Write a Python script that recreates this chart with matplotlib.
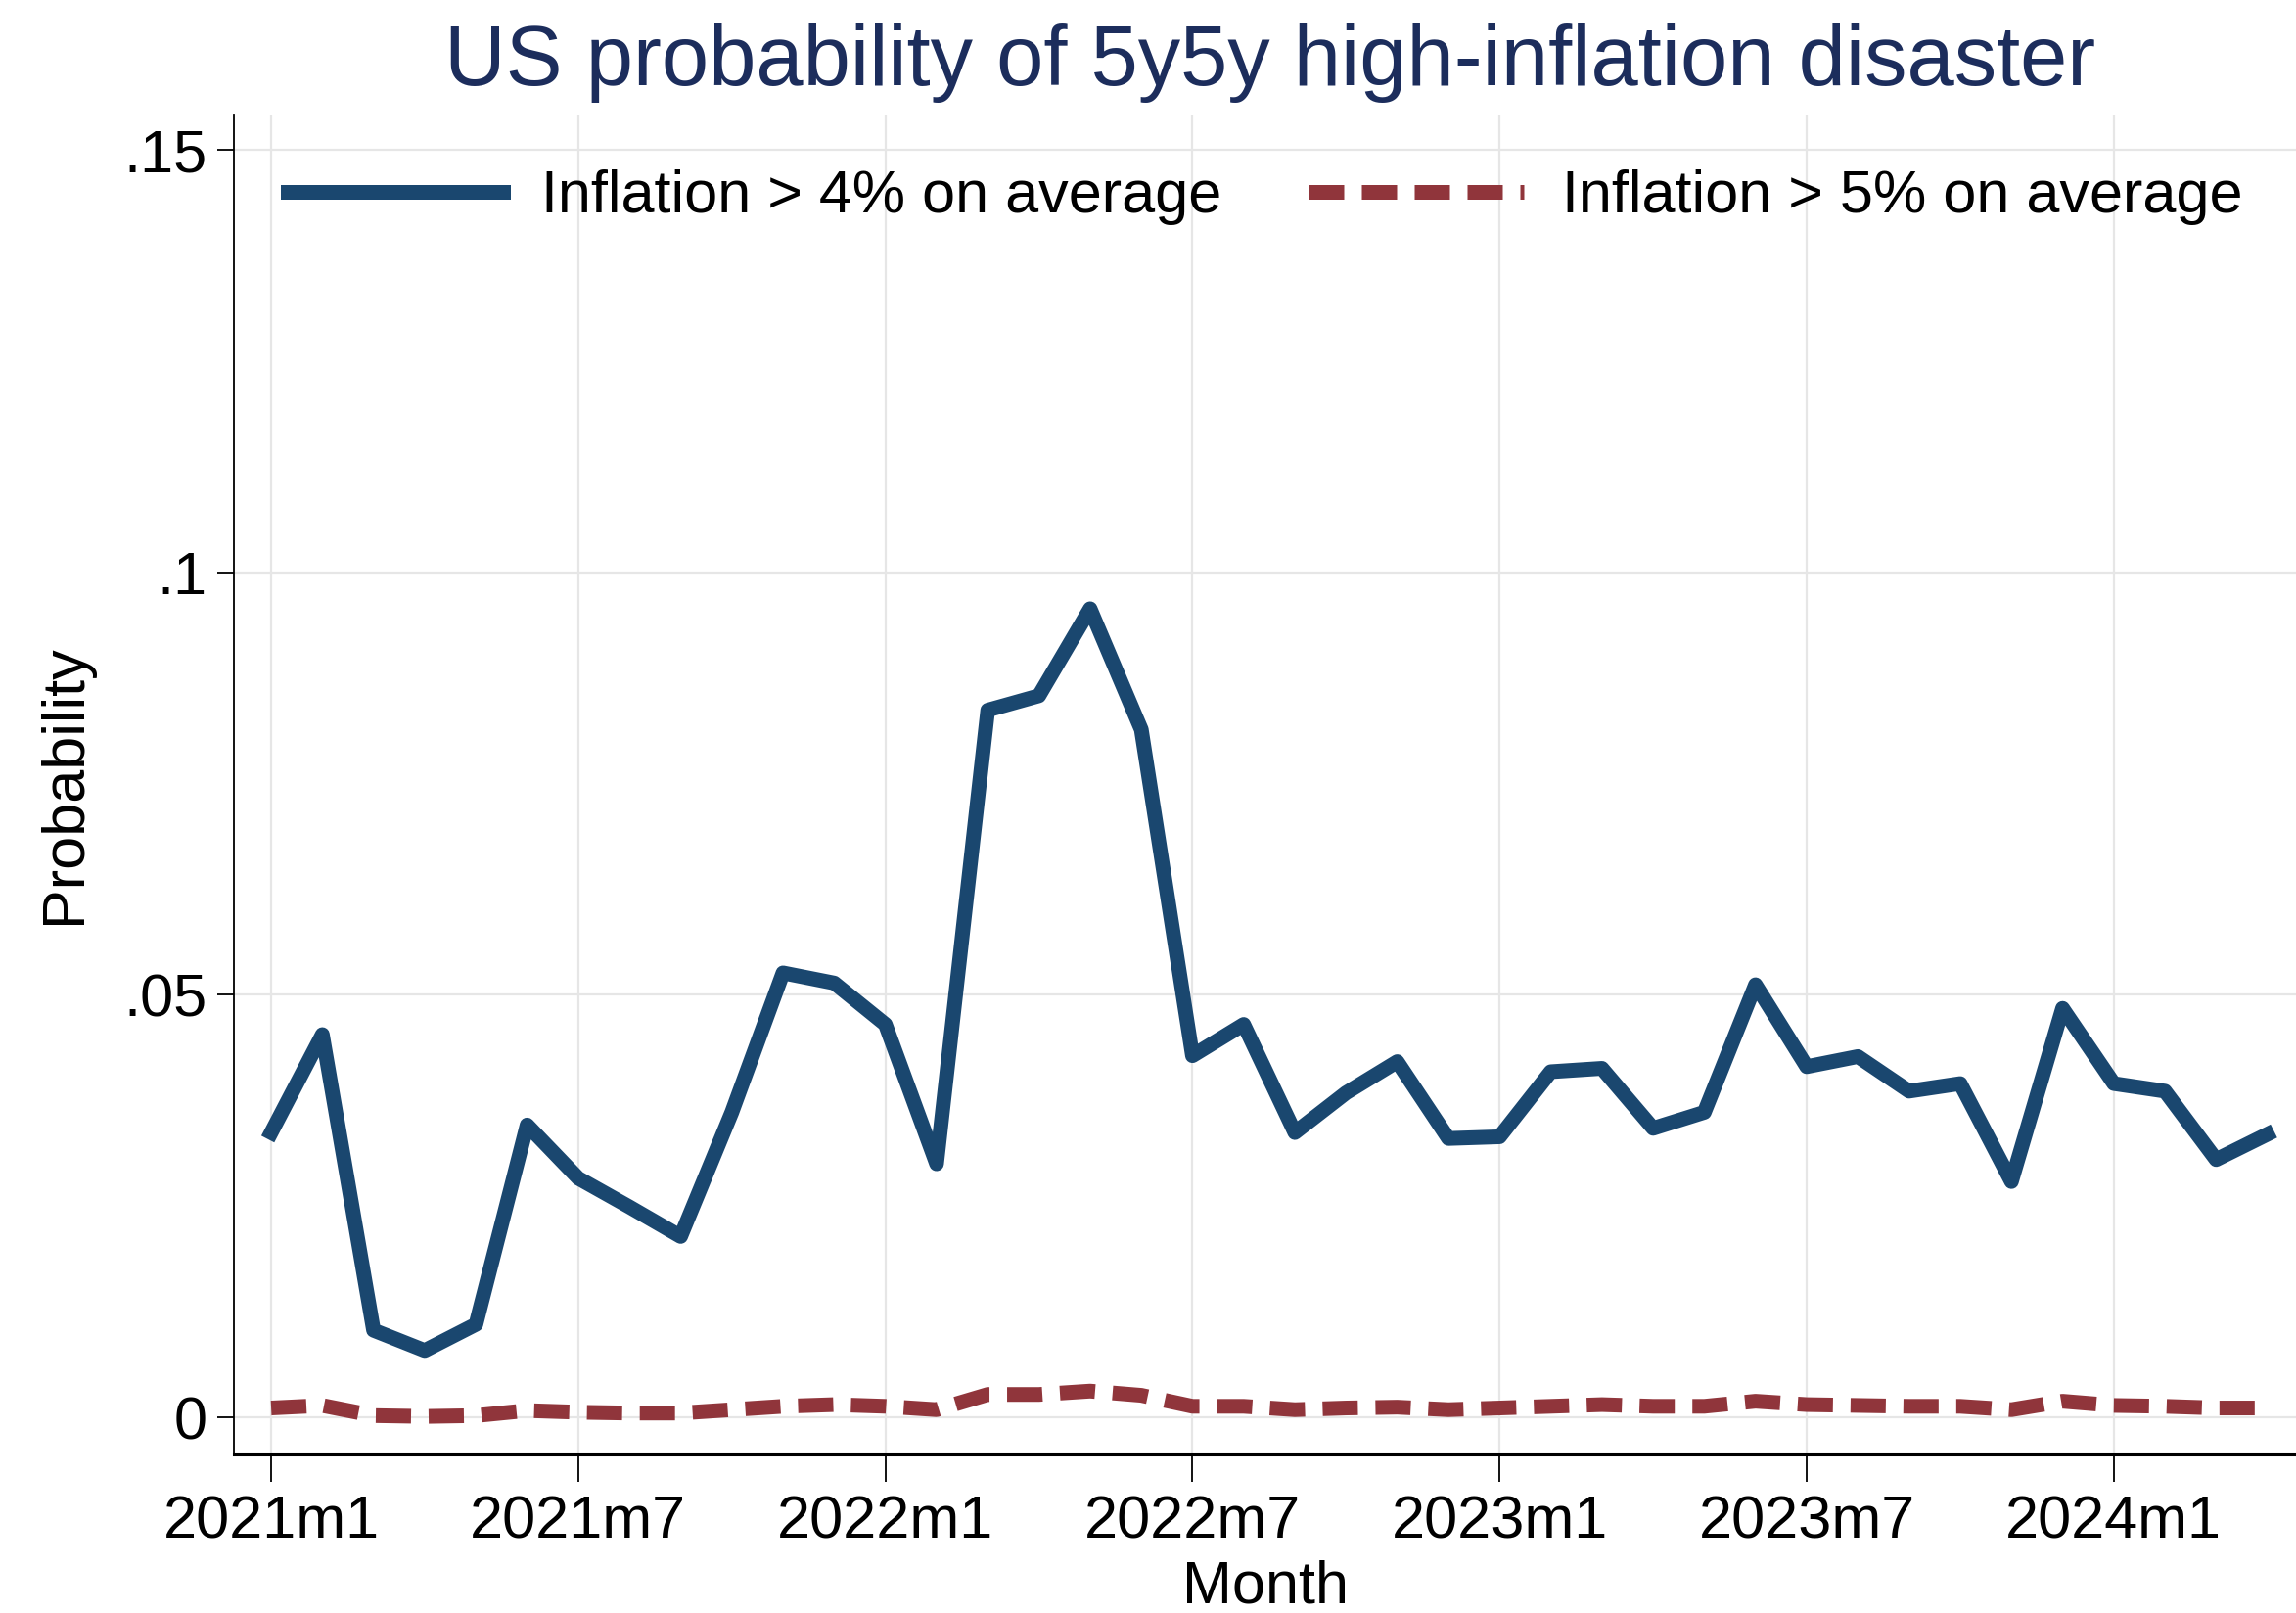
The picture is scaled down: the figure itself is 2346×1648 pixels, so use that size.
import matplotlib
matplotlib.use('Agg')
import matplotlib.pyplot as plt

plt.rcParams['font.family'] = ['Liberation Sans', 'DejaVu Sans']

# monthly observations, 2021m1 .. 2024m4
start_year = 2021
n_months = 40
prob_4pct = [0.0337, 0.0453, 0.0103, 0.0079, 0.0110, 0.0346, 0.0283, 0.0249, 0.0214, 0.0361,
             0.0526, 0.0514, 0.0465, 0.0300, 0.0837, 0.0854, 0.0957, 0.0814, 0.0428, 0.0465,
             0.0337, 0.0384, 0.0421, 0.0330, 0.0332, 0.0409, 0.0413, 0.0342, 0.0361, 0.0512,
             0.0415, 0.0427, 0.0386, 0.0395, 0.0279, 0.0484, 0.0395, 0.0386, 0.0305, 0.0335]
prob_5pct = [0.0011, 0.0014, 0.0002, 0.0001, 0.0002, 0.0008, 0.0006, 0.0005, 0.0005, 0.0009,
             0.0013, 0.0015, 0.0013, 0.0009, 0.0027, 0.0027, 0.0031, 0.0026, 0.0013, 0.0013,
             0.0009, 0.0011, 0.0012, 0.0009, 0.0011, 0.0013, 0.0015, 0.0013, 0.0013, 0.0019,
             0.0015, 0.0014, 0.0013, 0.0013, 0.0009, 0.0019, 0.0014, 0.0013, 0.0011, 0.0011]
xtick_pos = [0, 6, 12, 18, 24, 30, 36]
xtick_labels = ['2021m1', '2021m7', '2022m1', '2022m7', '2023m1', '2023m7', '2024m1']
ytick_pos = [0, 0.05, 0.1, 0.15]
ytick_labels = ['0', '.05', '.1', '.15']

months = list(range(n_months))

navy = '#1a476f'
maroon = '#90353b'
title_col = '#1c2d5c'

fig = plt.figure(figsize=(23.46, 16.48), dpi=100)
ax = fig.add_axes([0.1019, 0.0983, 0.8981, 0.8307])

ax.plot(months, prob_4pct, color=navy, lw=10.8, solid_joinstyle='round',
        label='Inflation > 4% on average', zorder=3)
ax.plot(months, prob_5pct, color=maroon, lw=10.8, linestyle=(0, (2.4, 1.2)),
        dash_capstyle='butt', label='Inflation > 5% on average', zorder=3)

ax.set_xlim(-0.727, 39.56)
ax.set_ylim(-0.0044, 0.1542)
ax.set_xticks(xtick_pos)
ax.set_xticklabels(xtick_labels)
ax.set_yticks(ytick_pos)
ax.set_yticklabels(ytick_labels)

ax.grid(True, color='#e6e6e6', lw=1.6, zorder=0)
ax.set_axisbelow(True)
for s in ['top', 'right']:
    ax.spines[s].set_visible(False)
ax.spines['left'].set_linewidth(1.3)
ax.spines['bottom'].set_linewidth(2.2)

ax.tick_params(axis='x', labelsize=44, length=20, width=1.3, pad=10)
ax.tick_params(axis='y', labelsize=44, length=12, width=1.3, pad=8)

ax.set_ylabel('Probability', fontsize=44, labelpad=22)
ax.set_xlabel('Month', fontsize=44, labelpad=6)

ax.legend(loc='center', bbox_to_anchor=(0.5, 0.938), ncol=2, frameon=False,
          fontsize=44, handlelength=3.6, handletextpad=0.64, columnspacing=1.45)

fig.text(0.553, 0.947, 'US probability of 5y5y high-inflation disaster',
         ha='center', va='baseline', fontsize=62.5, color=title_col)

fig.savefig('out.png', dpi=100)
